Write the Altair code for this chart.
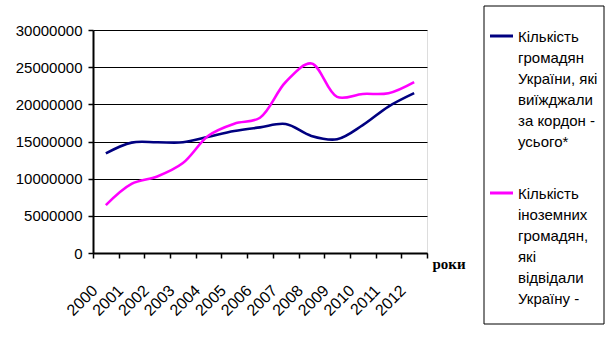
import altair as alt
import pandas as pd

years = [2000, 2001, 2002, 2003, 2004, 2005, 2006, 2007, 2008, 2009, 2010, 2011, 2012]
series_names = [
    "Кількість|громадян|України, які|виїжджали|за кордон -|усього*",
    "Кількість|іноземних|громадян,|які|відвідали|Україну -",
]
series_colors = ["#000080", "#FF00FF"]
out_ukr = [13400000, 14850000, 14900000, 14900000, 15650000, 16400000, 16900000,
           17350000, 15750000, 15300000, 17200000, 19700000, 21500000]
in_foreign = [6450000, 9300000, 10300000, 12100000, 15800000, 17400000, 18200000,
              23000000, 25500000, 21000000, 21400000, 21500000, 23000000]
y_ticks = [0, 5000000, 10000000, 15000000, 20000000, 25000000, 30000000]
x_label = "роки"

rows = []
for s, vals in zip(series_names, [out_ukr, in_foreign]):
    for yr, v in zip(years, vals):
        rows.append({"year": yr, "value": v, "series": s})
df = pd.DataFrame(rows)
legend_df = pd.DataFrame({"series": series_names, "idx": list(range(len(series_names)))})

font = "Liberation Sans"
xscale = alt.Scale(domain=[years[0] - 0.5, years[-1] + 0.5], nice=False, zero=False)
yscale = alt.Scale(domain=[y_ticks[0], y_ticks[-1]], nice=False)
cscale = alt.Scale(domain=series_names, range=series_colors)

boundaries = [y - 0.5 for y in years] + [years[-1] + 0.5]

lines = alt.Chart(df).mark_line(interpolate="catmull-rom", strokeWidth=2.6).encode(
    x=alt.X("year:Q", scale=xscale,
            axis=alt.Axis(orient="bottom", values=years, ticks=False, domain=False, grid=False,
                          labelAngle=-45, labelAlign="right", labelBaseline="top",
                          labelPadding=29, labelOffset=-17, labelFontSize=16, labelFont=font,
                          labelColor="black", format="d", labelFlush=False,
                          labelOverlap=False,
                          title=x_label, titleFont="Liberation Serif", titleFontSize=15,
                          titleFontWeight="bold", titleColor="black",
                          titleAlign="left", titleBaseline="middle",
                          titleX=339, titleY=10, titleAnchor="start")),
    y=alt.Y("value:Q", scale=yscale,
            axis=alt.Axis(values=y_ticks, grid=True, gridColor="black", gridOpacity=1,
                          gridWidth=1, domainColor="black", domainWidth=2,
                          tickColor="black", tickSize=5, tickWidth=1.5,
                          labelFontSize=15, labelFont=font, labelColor="black",
                          labelPadding=6, format="d", title=None)),
    color=alt.Color("series:N", scale=cscale, legend=None),
)

tick_layer = alt.Chart(pd.DataFrame({"b": boundaries})).mark_point(opacity=0).encode(
    x=alt.X("b:Q", scale=xscale,
            axis=alt.Axis(orient="bottom", values=boundaries, labels=False, grid=False,
                          domainColor="black", domainWidth=2, tickColor="black",
                          tickSize=5, tickWidth=1.5, title=None)),
)

# legend (drawn as a boxed key to the right of the plot)
legend_box = alt.Chart(legend_df).mark_rect(fill="white", stroke="black", strokeWidth=1).encode(
    x=alt.value(391), x2=alt.value(511), y=alt.value(-24), y2=alt.value(294)
).transform_filter("datum.idx == 0")

legend_base = alt.Chart(legend_df).transform_calculate(sy="6 + datum.idx * 157")

legend_sym = legend_base.mark_rule(strokeWidth=3).encode(
    x=alt.value(397), x2=alt.value(420),
    y=alt.Y("sy:Q", scale=None),
    color=alt.Color("series:N", scale=cscale, legend=None),
)
legend_txt = legend_base.mark_text(
    align="left", baseline="top", dy=-6.5, lineBreak="|", lineHeight=21,
    font=font, fontSize=15, color="black"
).encode(
    x=alt.value(425),
    y=alt.Y("sy:Q", scale=None),
    text="series:N",
)

chart = alt.layer(tick_layer, lines, legend_box, legend_sym, legend_txt).resolve_axis(
    x="independent").properties(
    width=334, height=223,
    padding={"left": 93, "top": 30, "right": 183, "bottom": 100},
    autosize=alt.AutoSizeParams(type="none"),
).configure_view(stroke=None).configure(background="white")

chart.save("out.html", embed_options={"renderer": "svg", "actions": False})
